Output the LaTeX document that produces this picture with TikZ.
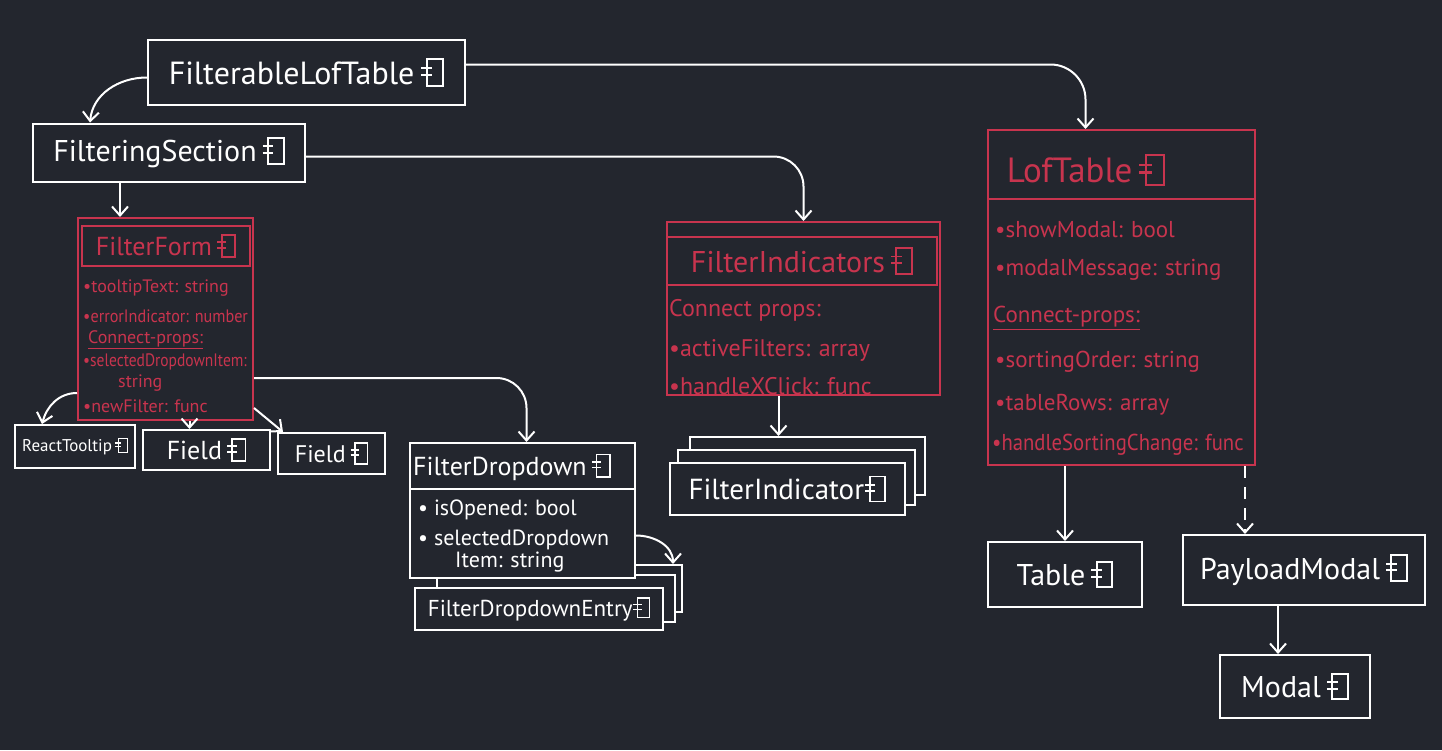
\documentclass[tikz,border=0pt]{standalone}
\usepackage{fontspec}
\setmainfont{PT Sans}
\usetikzlibrary{arrows.meta}
\definecolor{bg}{RGB}{35,38,46}
\definecolor{uired}{RGB}{200,52,78}
\newcommand\cicon[1]{\tikz[baseline=0pt,x=1em,y=1em,line width=0.065em,#1]{%
  \draw (0.22,-0.06) rectangle (0.74,0.80);
  \draw (0.04,0.52)--(0.40,0.52);
  \draw (0.04,0.30)--(0.40,0.30);}}
\begin{document}
\begin{tikzpicture}[x=1pt,y=-1pt,
  wbox/.style={draw=white,line width=2pt,fill=bg,text=white,inner sep=0pt},
  rbox/.style={draw=uired,line width=2pt,fill=bg,text=uired,inner sep=0pt},
  rtxt/.style={text=uired,inner sep=0pt,anchor=west},
  wtxt/.style={text=white,inner sep=0pt,anchor=west},
  wline/.style={draw=white,line width=2pt},
  rline/.style={draw=uired,line width=2pt},
  arr/.style={draw=white,line width=2pt,-{Straight Barb[length=9pt,width=16pt,line width=2pt]}},
  f35/.style={font=\fontsize{35}{41}\selectfont},
  f32/.style={font=\fontsize{32}{38}\selectfont},
  f30/.style={font=\fontsize{30}{36}\selectfont},
  f29/.style={font=\fontsize{29}{34}\selectfont},
  f26/.style={font=\fontsize{26}{31}\selectfont},
  f24/.style={font=\fontsize{24}{29}\selectfont},
  f23/.style={font=\fontsize{23}{28}\selectfont},
  f22/.style={font=\fontsize{22}{26}\selectfont},
  f18/.style={font=\fontsize{18}{21}\selectfont},
  f17/.style={font=\fontsize{17}{20}\selectfont},
]
\fill[bg] (0,0) rectangle (1442,750);
\useasboundingbox (0,0) rectangle (1442,750);

% top level
\node[wbox,f32,minimum width=317pt,minimum height=65pt] (flt) at (306.5,72.5) {FilterableLofTable\,\cicon{white}};
\node[wbox,f30,minimum width=272pt,minimum height=58pt] (fs) at (169,152.5) {FilteringSection\,\cicon{white}};

% FilterForm
\node[rbox,minimum width=175pt,minimum height=202pt] (ff) at (165.5,319) {};
\node[rbox,f26,minimum width=168pt,minimum height=40pt] (fft) at (166,246) {FilterForm\,\cicon{uired}};
\node[rtxt,f18] (ff1) at (83,288) {•tooltipText: string};
\node[rtxt,f18] (ff2) at (83,316) {\scalebox{0.9}[1]{•errorIndicator: number}};
\node[rtxt,f18] (ff3) at (88,340) {\underline{Connect-props:}};
\node[rtxt,f18] (ff4) at (83,362) {\scalebox{0.86}[1]{•selectedDropdownItem:}};
\node[rtxt,f18] (ff5) at (118,383) {string};
\node[rtxt,f18] (ff6) at (83,406) {•newFilter: func};

\node[wbox,f17,minimum width=120pt,minimum height=43pt] (rt) at (75,446.5) {ReactTooltip\,\cicon{white}};
\node[wbox,f26,minimum width=127pt,minimum height=40pt] (f1) at (206.5,450) {Field\,\cicon{white}};
\node[wbox,f24,minimum width=107pt,minimum height=41pt] (f2) at (331.5,453.5) {Field\,\cicon{white}};

% FilterDropdownEntry stack
\node[wbox,minimum width=237pt,minimum height=47pt] (fde3) at (563.5,588.5) {};
\node[wbox,minimum width=238pt,minimum height=47pt] (fde2) at (556,598.5) {};
\node[wbox,f23,minimum width=248pt,minimum height=42pt] (fde) at (539,609) {FilterDropdownEntry\cicon{white}};

% FilterDropdown
\node[wbox,minimum width=225pt,minimum height=135pt] (fd) at (522.5,510.5) {};
\draw[wline] ([yshift=-47pt]fd.north west) -- ([yshift=-47pt]fd.north east);
\node[wtxt,f26] (fdt) at (413,467) {FilterDropdown\,\cicon{white}};
\node[wtxt,f22] (fd1) at (418,510) {• isOpened: bool};
\node[wtxt,f22] (fd2) at (418,540) {• selectedDropdown};
\node[wtxt,f22] (fd3) at (455,562) {Item: string};

% FilterIndicator stack
\node[wbox,minimum width=235pt,minimum height=58pt] (fis3) at (807.5,466) {};
\node[wbox,minimum width=237pt,minimum height=55pt] (fis2) at (796.5,477.5) {};
\node[wbox,f29,minimum width=235pt,minimum height=52pt] (fis) at (787.5,489) {FilterIndicator\cicon{white}};

% FilterIndicators
\node[rbox,minimum width=273pt,minimum height=173pt] (fi) at (803.5,308.5) {};
\node[rbox,f30,minimum width=270pt,minimum height=48pt] (fit) at (802,261) {FilterIndicators\,\cicon{uired}};
\node[rtxt,f24] (fi1) at (669,310) {Connect props:};
\node[rtxt,f24] (fi2) at (669,350) {•activeFilters: array};
\node[rtxt,f24] (fi3) at (669,386) {•handleXClick: func};

% LofTable
\node[rbox,minimum width=267pt,minimum height=335pt] (lt) at (1121.5,297.5) {};
\draw[rline] ([yshift=-70pt]lt.north west) -- ([yshift=-70pt]lt.north east);
\node[text=uired,inner sep=0pt,f35] (ltt) at (1086,170) {LofTable\,\cicon{uired}};
\node[rtxt,f23] (lt1) at (995,230) {•showModal: bool};
\node[rtxt,f23] (lt2) at (995,270) {•modalMessage: string};
\node[rtxt,f23] (lt3) at (993,318) {\underline{Connect-props:}};
\node[rtxt,f23] (lt4) at (995,362) {•sortingOrder: string};
\node[rtxt,f23] (lt5) at (995,405) {•tableRows: array};
\node[rtxt,f23] (lt6) at (992,445) {\scalebox{0.9}[1]{•handleSortingChange: func}};

\node[wbox,f30,minimum width=154pt,minimum height=65pt] (tb) at (1065,574.5) {Table\,\cicon{white}};
\node[wbox,f30,minimum width=242pt,minimum height=70pt] (pm) at (1304,570) {PayloadModal\,\cicon{white}};
\node[wbox,f30,minimum width=150pt,minimum height=63pt] (md) at (1295,686.5) {Modal\,\cicon{white}};

% connectors
\draw[arr] ([yshift=-5pt]flt.west) to[out=180,in=85] ([xshift=-79pt]fs.north);
\draw[arr,rounded corners=35pt] ([yshift=8pt]flt.east) -| ([xshift=-36pt]lt.north);
\draw[arr,rounded corners=30pt] ([yshift=-4pt]fs.east) -| (fi.north);
\draw[arr] ([xshift=-49pt]fs.south) -- ([xshift=-49pt]fs.south |- ff.north);
\draw[arr] ([yshift=-74pt]ff.west) to[out=180,in=75] ([xshift=-33pt]rt.north);
\draw[arr] ([xshift=24pt]ff.south) -- ([xshift=24pt]ff.south |- f1.north);
\draw[arr] ([yshift=-89pt]ff.east) -- ([xshift=6pt]f2.north west);
\draw[arr,rounded corners=30pt] ([yshift=-59pt]ff.east) -| ([xshift=4pt]fd.north);
\draw[arr] ([yshift=-25pt]fd.east) to[out=0,in=90] ([xshift=-10pt]fde3.north east);
\draw[arr] ([xshift=-25pt]fi.south) -- ([xshift=-25pt]fi.south |- fis3.north);
\draw[arr] (tb.north |- lt.south) -- (tb.north);
\draw[arr,dash pattern=on 12pt off 9pt] ([xshift=-59pt]pm.north |- lt.south) -- ([xshift=-59pt]pm.north);
\draw[arr] ([xshift=-26pt]pm.south) -- ([xshift=-26pt]pm.south |- md.north);
\end{tikzpicture}
\end{document}
